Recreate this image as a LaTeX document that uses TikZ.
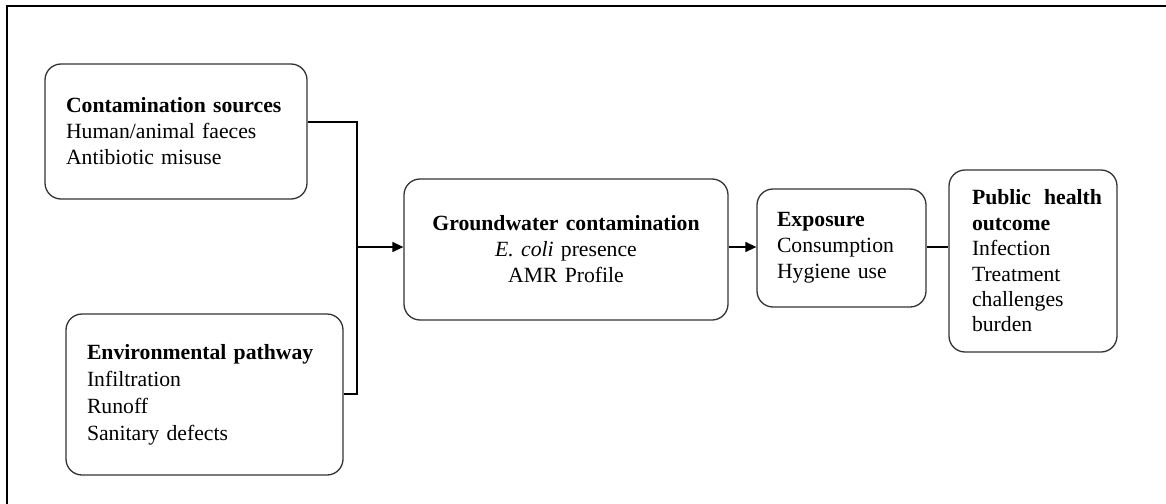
\documentclass[tikz,border=0pt]{standalone}
\usepackage{fontspec}
\setmainfont{Liberation Serif}
\usetikzlibrary{arrows.meta}
\begin{document}
\begin{tikzpicture}[x=1pt,y=-1pt,
  box/.style={draw=black!80, line width=1.3pt, rounded corners=16pt, align=left,
    inner xsep=21pt, inner ysep=0pt, font=\fontsize{21.7}{26}\selectfont},
  conn/.style={line width=1.3pt, black},
  arr/.style={conn, -{Triangle[length=11pt,width=10pt]}}]
\useasboundingbox (0,0) rectangle (1166,503);
\draw[line width=2pt] (7,504) -- (7,6) -- (1167,6);
\node[box, text width=220pt, minimum height=135pt] (b1) at (176,131.5)
  {\mbox{\textbf{Contamination sources}}\\\mbox{Human/animal faeces}\\\mbox{Antibiotic misuse}};
\node[box, text width=235pt, minimum height=161pt, font=\fontsize{21.7}{27}\selectfont] (b2) at (204.5,394.5)
  {\mbox{\textbf{Environmental pathway}}\\Infiltration\\Runoff\\\mbox{Sanitary defects}};
\node[box, align=center, text width=282pt, minimum height=141pt] (b3) at (566,249.5)
  {\mbox{\textbf{Groundwater contamination}}\\\mbox{\textit{E. coli} presence}\\\mbox{AMR Profile}};
\node[box, text width=129pt, inner xsep=20pt, minimum height=118pt] (b4) at (841.5,248)
  {\textbf{Exposure}\\\mbox{Consumption}\\\mbox{Hygiene use}};
\node[box, text width=122pt, inner xsep=23pt, minimum height=182pt, font=\fontsize{21.7}{25.4}\selectfont] (b5) at (1033,261)
  {\mbox{\textbf{Public}\hspace{13pt}\textbf{health}}\\\textbf{outcome}\\Infection\\Treatment\\challenges\\burden};
\coordinate (jt) at (357,122);
\coordinate (jb) at (357,394);
\coordinate (j) at (357,247);
\draw[conn] (b1.east |- jt) -- (jt) -- (jb) -- (b2.east |- jb);
\draw[arr] (j) -- (b3.west |- j);
\draw[arr] (b3.east |- j) -- (b4.west |- j);
\draw[conn] (b4.east |- j) -- (b5.west |- j);
\end{tikzpicture}
\end{document}
